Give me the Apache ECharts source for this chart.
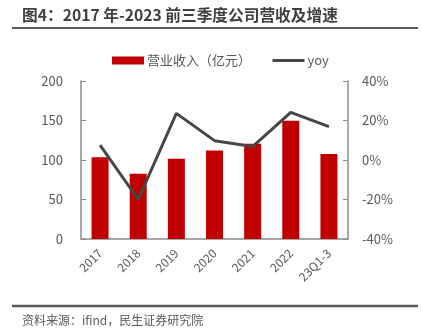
<!DOCTYPE html>
<html>
<head>
<meta charset="utf-8">
<script src="https://cdn.jsdelivr.net/npm/echarts@6/dist/echarts.min.js"></script>
<style>
  html, body { margin: 0; padding: 0; background: #fff; }
  #wrap { position: relative; width: 422px; height: 331px; }
  #chart { position: absolute; left: 0; top: 0; width: 422px; height: 331px; }
  #rule-top { position: absolute; left: 12px; top: 27px; width: 406px; height: 2px; background: #5a5a5a; z-index: 5; }
</style>
</head>
<body>
<div id="wrap">
  <div id="chart"></div>
  <div id="rule-top"></div>
</div>
<script>
// Revenue (亿元) and year-over-year growth, 2017 to Q1-Q3 2023
const categories = ['2017', '2018', '2019', '2020', '2021', '2022', '23Q1-3'];
const revenue = [103.5, 82.5, 101.5, 112, 120.5, 149.7, 107.5];
const yoy = [7.5, -20, 23.6, 9.8, 6.8, 24.1, 16.9];
const leftTicks = [0, 50, 100, 150, 200];
const rightTicks = [-40, -20, 0, 20, 40];

const font = '"Noto Sans CJK SC", "Noto Sans", sans-serif';
const textGray = '#595959';
const axisGray = '#8c8c8c';

const chart = echarts.init(document.getElementById('chart'), null, { renderer: 'canvas' });

chart.setOption({
  animation: false,
  textStyle: { fontFamily: font },
  graphic: {
    elements: [
      {
        type: 'text', id: 'heading', z: 100,
        x: 22, y: 7,
        style: { text: '图4：2017 年-2023 前三季度公司营收及增速', font: 'bold 15.7px ' + font, fill: '#404040' }
      },
      {
        type: 'line', id: 'titleRule', z: 100,
        shape: { x1: 12, y1: 28, x2: 418, y2: 28 },
        style: { stroke: '#5a5a5a', lineWidth: 2 }
      },
      {
        type: 'line', id: 'footRule', z: 100,
        shape: { x1: 12, y1: 306, x2: 418, y2: 306 },
        style: { stroke: '#5a5a5a', lineWidth: 2.5 }
      },
      {
        type: 'text', id: 'source', z: 100,
        x: 22, y: 314,
        style: { text: '资料来源：ifind，民生证券研究院', font: '12px ' + font, fill: textGray }
      }
    ]
  },
  legend: {
    top: 49,
    left: 107,
    itemGap: 20,
    itemWidth: 32,
    itemHeight: 8,
    textStyle: { fontSize: 13, color: textGray, fontFamily: font, padding: [0, 0, 0, -2] },
    data: [
      { name: '营业收入（亿元）', icon: 'rect' },
      { name: 'yoy', itemStyle: { opacity: 0 }, lineStyle: { width: 3 } }
    ]
  },
  grid: { left: 81, right: 74, top: 81, bottom: 92 },
  xAxis: {
    type: 'category',
    data: categories,
    axisLine: { lineStyle: { color: axisGray, width: 1.5 } },
    axisTick: { show: false },
    axisLabel: { rotate: 45, fontSize: 12, color: textGray, margin: 12, interval: 0 }
  },
  yAxis: [
    {
      type: 'value',
      min: leftTicks[0], max: leftTicks[leftTicks.length - 1], interval: 50,
      axisLine: { show: true, lineStyle: { color: axisGray, width: 1.5 } },
      axisTick: { show: true, inside: true, length: 5, lineStyle: { color: axisGray } },
      splitLine: { show: false },
      axisLabel: { fontSize: 13, color: textGray, margin: 18 }
    },
    {
      type: 'value',
      min: rightTicks[0], max: rightTicks[rightTicks.length - 1], interval: 20,
      position: 'right',
      axisLine: { show: true, lineStyle: { color: axisGray, width: 1.5 } },
      axisTick: { show: true, inside: true, length: 5, lineStyle: { color: axisGray } },
      splitLine: { show: false },
      axisLabel: { fontSize: 13, color: textGray, margin: 14, formatter: '{value}%' }
    }
  ],
  series: [
    {
      name: '营业收入（亿元）',
      type: 'bar',
      data: revenue,
      barWidth: 17,
      itemStyle: { color: '#c00000' }
    },
    {
      name: 'yoy',
      type: 'line',
      yAxisIndex: 1,
      data: yoy,
      symbol: 'none',
      lineStyle: { color: '#474747', width: 3 },
      itemStyle: { color: '#474747' }
    }
  ]
});
</script>
</body>
</html>
